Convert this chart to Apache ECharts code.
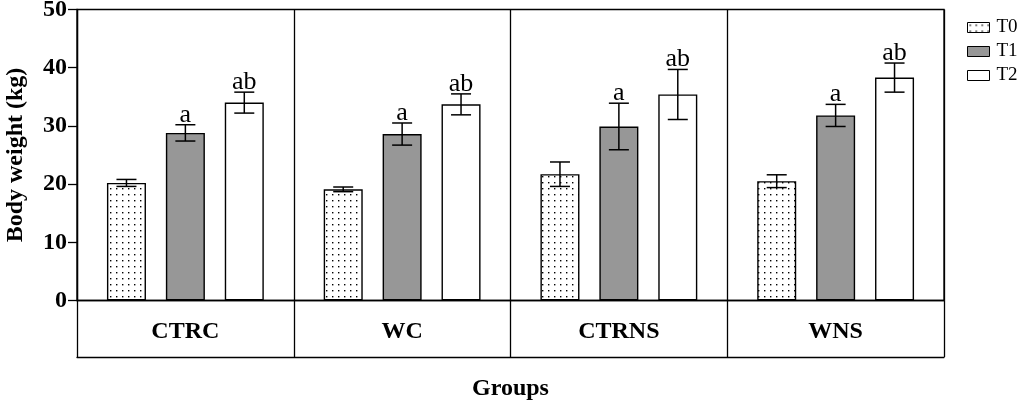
<!DOCTYPE html>
<html>
<head>
<meta charset="utf-8">
<script src="https://cdn.jsdelivr.net/npm/echarts@6/dist/echarts.min.js"></script>
<style>html,body{margin:0;padding:0;background:#fff;}#c{width:1021px;height:412px;}</style>
</head>
<body>
<div id="c"></div>
<script>
const categories = ['CTRC', 'WC', 'CTRNS', 'WNS'];
const seriesNames = ['T0', 'T1', 'T2'];
const t0Mean = [20.2, 19.1, 21.7, 20.5];
const t0Err  = [0.6, 0.4, 2.1, 1.1];
const t1Mean = [28.8, 28.6, 29.9, 31.8];
const t1Err  = [1.4, 1.9, 4.0, 1.9];
const t2Mean = [34.0, 33.7, 35.4, 38.3];
const t2Err  = [1.8, 1.8, 4.3, 2.5];
const letters = ['', 'a', 'ab'];
const yMin = 0, yMax = 50, yInterval = 10;

const means = [t0Mean, t1Mean, t2Mean];
const errs = [t0Err, t1Err, t2Err];

// dotted pattern for T0
const pc = document.createElement('canvas');
pc.width = 6; pc.height = 6;
const pctx = pc.getContext('2d');
pctx.fillStyle = '#fff'; pctx.fillRect(0, 0, 6, 6);
pctx.fillStyle = '#000'; pctx.fillRect(2, 2, 1.4, 1.4);

const fills = [{ image: pc, repeat: 'repeat' }, '#979797', '#ffffff'];
const BAR_W = 0.18, BAR_GAP = 0.51;
const serif = '"Liberation Serif", "Times New Roman", serif';

const series = [];
seriesNames.forEach((name, i) => {
  series.push({
    name: name,
    type: 'bar',
    barWidth: (BAR_W * 100) + '%',
    barGap: (BAR_GAP * 100) + '%',
    data: means[i],
    itemStyle: { color: fills[i], borderColor: '#000', borderWidth: 1.4 },
    z: 2
  });
});
seriesNames.forEach((name, i) => {
  series.push({
    type: 'custom',
    name: name + '-err',
    z: 5,
    encode: { x: 0, y: 1 },
    data: categories.map((c, j) => [j, means[i][j], errs[i][j]]),
    renderItem: function (params, api) {
      const j = api.value(0), m = api.value(1), e = api.value(2);
      const catW = api.size([1, 0])[0];
      const bw = catW * BAR_W;
      const off = (i - 1) * bw * (1 + BAR_GAP);
      const top = api.coord([j, m + e]);
      const bot = api.coord([j, m - e]);
      const x = top[0] + off;
      const h = 10;
      const ls = { stroke: '#000', lineWidth: 1.5 };
      const children = [
        { type: 'line', shape: { x1: x, y1: top[1], x2: x, y2: bot[1] }, style: ls },
        { type: 'line', shape: { x1: x - h, y1: top[1], x2: x + h, y2: top[1] }, style: ls },
        { type: 'line', shape: { x1: x - h, y1: bot[1], x2: x + h, y2: bot[1] }, style: ls }
      ];
      if (letters[i]) {
        children.push({
          type: 'text',
          style: { text: letters[i], x: x, y: top[1] + 3, align: 'center', verticalAlign: 'bottom',
                   font: '26px ' + serif, fill: '#000' }
        });
      }
      return { type: 'group', children: children };
    }
  });
});

const chart = echarts.init(document.getElementById('c'));
chart.setOption({
  animation: false,
  backgroundColor: '#fff',
  grid: { left: 77, right: 77, top: 9.5, bottom: 111.5, show: true, borderColor: '#000', borderWidth: 1.3,
          backgroundColor: 'transparent', containLabel: false, outerBoundsMode: 'none' },
  legend: {
    data: seriesNames,
    orient: 'vertical',
    left: 962, top: 13,
    icon: 'rect',
    itemWidth: 22, itemHeight: 10,
    itemGap: 5,
    itemStyle: { borderColor: '#000', borderWidth: 1 },
    textStyle: { fontFamily: serif, fontSize: 19, color: '#000', padding: [0, 0, 0, 2] },
    selectedMode: false
  },
  xAxis: [{
    type: 'category',
    data: categories,
    boundaryGap: true,
    axisLine: { show: true, lineStyle: { color: '#000', width: 1.3 } },
    axisTick: { show: true, inside: false, length: 56.5, alignWithLabel: false, interval: 0, lineStyle: { color: '#000', width: 1.3 } },
    splitLine: { show: true, interval: 0, lineStyle: { color: '#000', width: 1.3 } },
    axisLabel: { interval: 0, margin: 19, fontFamily: serif, fontWeight: 'bold', fontSize: 24, color: '#000' },
    name: 'Groups',
    nameLocation: 'middle',
    nameGap: 76,
    nameTextStyle: { fontFamily: serif, fontWeight: 'bold', fontSize: 24, color: '#000' }
  }, {
    type: 'category',
    data: categories,
    position: 'bottom',
    offset: 56.5,
    axisLine: { show: true, lineStyle: { color: '#000', width: 1.3 } },
    axisTick: { show: false },
    axisLabel: { show: false },
    splitLine: { show: false }
  }],
  yAxis: {
    type: 'value',
    min: yMin, max: yMax, interval: yInterval,
    axisLine: { show: true, lineStyle: { color: '#000', width: 1.3 } },
    axisTick: { show: true, inside: false, length: 9, lineStyle: { color: '#000', width: 1.3 } },
    splitLine: { show: false },
    axisLabel: { margin: 10, fontFamily: serif, fontWeight: 'bold', fontSize: 24, color: '#000' },
    name: 'Body weight (kg)',
    nameLocation: 'middle',
    nameGap: 49,
    nameTextStyle: { fontFamily: serif, fontWeight: 'bold', fontSize: 24, color: '#000' }
  },
  series: series
});
</script>
</body>
</html>
